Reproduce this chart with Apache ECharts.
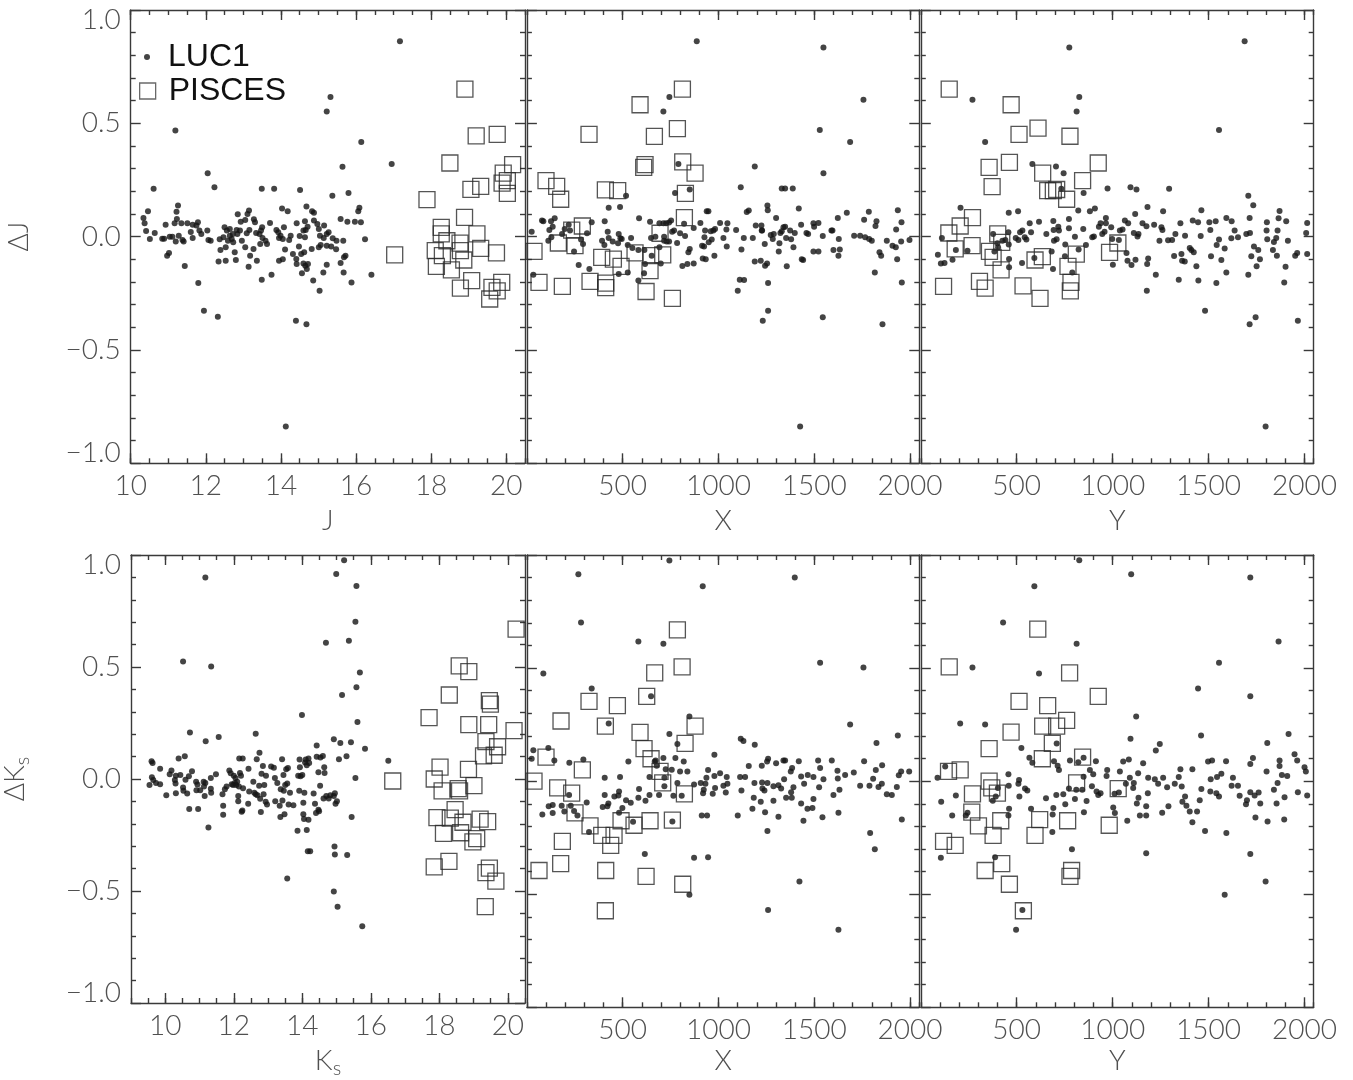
<!DOCTYPE html>
<html><head><meta charset="utf-8">
<script src="https://cdn.jsdelivr.net/npm/echarts@6/dist/echarts.min.js"></script>
<style>html,body{margin:0;padding:0;background:#fff}#c{width:1353px;height:1080px}</style>
</head><body><div id="c"></div>
<script>
// ---------- tick labels ----------
const jMagTicks = [10, 12, 14, 16, 18, 20];
const kMagTicks = [10, 12, 14, 16, 18, 20];
const pixTicks = [500, 1000, 1500, 2000];
const deltaTicks = [-1, -0.5, 0, 0.5, 1];
const legendNames = ['LUC1', 'PISCES'];

// ---------- Delta J panels ----------
const lucJ_mag = [[17.17,0.862],[15.32,0.616],[15.22,0.552],[11.19,0.468],[16.14,0.418],[16.95,0.321],[15.64,0.308],[12.05,0.280],[10.61,0.211],[12.23,0.218],[13.49,0.211],[13.82,0.211],[14.51,0.206],[15.80,0.193],[15.37,0.181],[15.59,0.078],[16.09,0.127],[16.06,0.112],[16.13,0.063],[15.97,0.066],[15.77,0.066],[16.24,-0.012],[16.41,-0.168],[15.88,-0.202],[15.67,-0.158],[15.59,-0.116],[15.68,-0.091],[15.72,-0.084],[15.47,-0.056],[15.48,-0.018],[15.38,-0.007],[15.66,-0.018],[15.22,-0.124],[15.03,-0.239],[15.13,-0.158],[14.86,-0.194],[14.56,-0.162],[14.69,-0.143],[14.65,-0.128],[14.72,-0.121],[14.60,-0.118],[14.42,-0.121],[14.41,-0.099],[14.32,-0.077],[14.54,-0.077],[14.62,-0.069],[14.48,-0.044],[14.82,-0.054],[15.01,-0.047],[15.06,-0.037],[15.22,-0.040],[15.34,-0.044],[15.14,-0.006],[15.22,0.012],[15.27,0.019],[15.04,0.004],[15.15,0.049],[14.97,0.056],[15.01,0.034],[14.88,0.071],[14.83,0.112],[14.88,0.105],[14.68,0.133],[14.64,0.068],[14.71,0.044],[14.66,0.029],[14.60,0.027],[14.50,0.003],[14.64,-0.003],[14.42,0.059],[14.18,0.112],[14.03,0.124],[14.08,0.041],[13.88,0.029],[13.93,0.019],[13.99,0.004],[13.95,-0.006],[14.05,-0.010],[14.22,-0.015],[14.11,-0.057],[14.26,0.004],[13.95,-0.106],[14.05,-0.100],[14.13,-0.838],[14.40,-0.371],[14.68,-0.386],[11.95,-0.327],[12.32,-0.353],[11.80,-0.205],[11.44,-0.130],[13.49,-0.190],[13.75,-0.168],[13.14,-0.133],[13.18,-0.084],[13.36,-0.106],[12.80,-0.103],[12.53,-0.106],[12.34,-0.110],[12.39,-0.059],[12.53,-0.047],[12.77,-0.069],[13.05,-0.047],[13.27,-0.054],[13.45,-0.032],[13.59,-0.018],[13.63,-0.032],[13.51,-0.006],[13.43,0.012],[13.34,0.016],[13.47,0.027],[13.50,0.041],[13.16,0.029],[13.09,0.015],[12.96,-0.018],[12.84,0.012],[12.91,0.027],[12.82,0.029],[12.72,0.012],[12.64,0.004],[12.69,-0.010],[12.73,-0.025],[12.59,-0.018],[12.47,-0.003],[12.37,-0.012],[12.50,0.041],[12.56,0.027],[12.64,0.034],[12.93,0.066],[13.05,0.074],[13.15,0.115],[13.11,0.100],[13.28,0.077],[13.31,0.063],[12.85,0.099],[13.71,0.060],[12.04,0.027],[12.07,-0.015],[12.13,-0.018],[11.79,0.063],[11.75,0.049],[11.88,0.012],[11.83,0.027],[11.65,0.053],[11.60,0.021],[11.65,-0.006],[11.51,0.059],[11.35,0.059],[11.28,0.004],[11.41,-0.021],[11.38,-0.015],[11.23,0.078],[11.26,0.137],[11.22,0.110],[11.17,0.059],[11.20,-0.021],[11.11,0.0],[11.04,0.0],[11.02,-0.072],[10.97,-0.084],[10.93,0.052],[10.89,-0.009],[10.84,-0.009],[10.64,0.016],[10.51,-0.010],[10.41,0.025],[10.46,0.112],[10.37,0.059],[10.34,0.082]];
const pisJ_mag = [[18.90,0.651],[19.20,0.445],[19.76,0.451],[18.50,0.325],[20.17,0.318],[19.92,0.280],[20.03,0.247],[19.89,0.236],[19.32,0.222],[19.06,0.209],[20.03,0.191],[17.89,0.163],[18.89,0.085],[18.27,0.041],[18.27,0.012],[19.22,0.012],[17.03,-0.080],[18.42,-0.018],[18.77,-0.029],[18.11,-0.062],[18.78,-0.062],[18.30,-0.084],[19.32,-0.052],[19.74,-0.072],[18.14,-0.131],[18.54,-0.147],[18.87,-0.103],[19.08,-0.194],[18.78,-0.227],[19.62,-0.224],[19.88,-0.202],[19.76,-0.239],[19.56,-0.275]];
const lucJ_x = [[886.5,0.862],[1547.7,0.835],[1756.5,0.604],[743.7,0.616],[712.3,0.552],[1528.6,0.470],[1687,0.418],[1189.3,0.309],[1547.7,0.280],[790.7,0.321],[849.8,0.208],[773.3,0.193],[517.4,0.181],[486.1,0.131],[426.9,0.127],[1116.1,0.218],[1330,0.212],[1347.6,0.212],[1387.6,0.212],[1255.3,0.137],[1257.1,0.116],[1419,0.124],[1147.4,0.109],[1158,0.115],[1300.6,0.082],[938.6,0.112],[947.3,0.112],[1669.6,0.105],[1784.5,0.110],[1935.9,0.116],[1622.6,0.082],[1760,0.075],[1824.5,0.068],[1955.1,0.063],[1927.2,0.032],[1819.3,0.047],[1589.5,0.027],[1521.6,0.060],[1495.5,0.059],[1499,0.044],[1459,0.016],[1467.8,0.012],[1431.2,0.052],[1398,0.016],[1373.7,0.027],[1338.9,0.041],[1347.6,0.044],[1330.2,0.024],[1323,0.016],[1318,-0.029],[1288.4,0.012],[1272.7,0.007],[1224,0.049],[1227.5,0.027],[1194.5,0.049],[1241.4,-0.032],[1179,-0.006],[1132,-0.006],[1119.7,-0.057],[1092,0.029],[1046.5,0.059],[1041.2,0.031],[1008.2,0.060],[1025.6,-0.006],[1043,-0.043],[982,0.034],[973.3,0.027],[978.6,-0.084],[959.4,0.024],[964.6,-0.013],[949,-0.025],[930,0.027],[926.6,-0.003],[914.4,-0.040],[924.8,-0.044],[905.5,0.060],[917.7,-0.096],[933.3,-0.100],[870.6,-0.118],[870.6,0.038],[849.8,-0.054],[842.8,-0.069],[837.6,-0.121],[811.5,-0.130],[825.5,0.003],[820.4,0.057],[799.5,0.015],[783.9,-0.028],[768.2,0.027],[757.8,0.022],[752.6,0.071],[742.1,0.062],[726.5,0.059],[712.6,0.059],[691.7,0.059],[716.1,0.0],[716.1,-0.018],[730,-0.021],[742.1,-0.021],[691.7,-0.047],[698.7,-0.118],[670.5,0.0],[642.7,0.066],[647.9,-0.006],[651.4,-0.084],[613.2,-0.059],[616.6,-0.121],[611.4,-0.162],[585.4,0.081],[581.9,-0.059],[581.9,-0.194],[550.6,-0.050],[543.7,-0.006],[526.3,-0.037],[526.3,-0.158],[487.9,-0.007],[494.8,-0.010],[479.2,0.012],[475.7,-0.029],[479.2,-0.165],[447.9,-0.021],[427,-0.006],[421.8,0.022],[406.1,0.068],[392.2,-0.018],[404.4,-0.037],[326,-0.143],[338.1,0.063],[313.8,0.015],[292.9,-0.032],[270.3,-0.125],[282.5,-0.013],[246,-0.066],[225.1,0.027],[218.1,0.053],[197.3,0.034],[183.4,0.012],[145.0,0.081],[134.6,0.044],[125.9,0.068],[117.2,0.029],[111.9,-0.018],[127.6,-0.003],[78.8,0.071],[85.8,0.068],[24.9,0.022],[33.6,-0.168],[1133.5,-0.191],[1111,-0.190],[1100.5,-0.239],[1258.8,-0.205],[1258.8,-0.327],[1231,-0.371],[1544.2,-0.356],[1855.8,-0.386],[1426,-0.838],[1815.8,-0.158],[1956.8,-0.202],[1932.5,-0.100],[1925.4,-0.047],[1908,-0.040],[1878.4,-0.018],[1953.3,-0.021],[1996.8,-0.015],[1840.2,-0.069],[1848.9,-0.084],[1800,-0.018],[1786,-0.010],[1739,0.004],[1765.3,-0.003],[1708,0.004],[1594.7,0.027],[1627.9,-0.010],[1633.1,-0.057],[1626,-0.084],[1600,-0.059],[1544.2,0.003],[1495.5,-0.066],[1521.6,-0.066],[1441.6,-0.103],[1434.6,-0.100],[1391.1,-0.047],[1378.9,-0.012],[1356.3,-0.131],[1352.8,-0.006],[1314.5,-0.066],[1283.2,-0.010],[1253.6,-0.118],[1243.1,-0.128],[1220.5,-0.106],[1189.2,-0.110],[1225.6,0.027]];
const pisJ_x = [[811.6,0.651],[590.5,0.582],[324.2,0.451],[665.4,0.442],[785.4,0.477],[616.6,0.318],[609.6,0.306],[813.3,0.330],[877.7,0.280],[99.7,0.247],[155.4,0.222],[176.3,0.165],[409.5,0.206],[473.9,0.203],[827.2,0.191],[822.0,0.084],[289.4,0.047],[234.0,0.029],[694.9,0.015],[164.1,-0.028],[251.1,-0.040],[37.1,-0.065],[390.4,-0.091],[451.3,-0.099],[564.4,-0.072],[646.2,-0.084],[708.9,-0.080],[491.3,-0.131],[642.7,-0.150],[63.2,-0.202],[185.0,-0.219],[329.5,-0.197],[411.3,-0.205],[411.3,-0.225],[621.9,-0.242],[759.3,-0.272]];
const lucJ_y = [[774,0.835],[1688,0.862],[269.3,0.604],[826,0.616],[812.2,0.552],[1554.4,0.470],[335.3,0.418],[581.5,0.321],[704.6,0.309],[744.5,0.280],[732.4,0.211],[973.4,0.212],[1093,0.218],[1124.2,0.208],[1294.3,0.211],[848.6,0.193],[1707.1,0.181],[1733,0.138],[1181.6,0.131],[207,0.127],[458.4,0.105],[507,0.112],[820.8,0.115],[881.4,0.112],[907.5,0.124],[1263,0.112],[1462.5,0.116],[1870,0.113],[964.8,0.082],[1117.4,0.100],[1155.6,0.059],[1714,0.082],[1592.7,0.082],[1904.7,0.068],[1865,0.081],[1804,0.063],[2014,0.060],[2008.7,0.016],[1859.7,0.027],[1802.3,0.027],[1715.8,0.016],[1696.7,0.012],[1653.3,-0.003],[1618.6,-0.007],[1635.9,0.027],[1620.3,0.068],[1554.4,-0.013],[1537,0.068],[1504,0.063],[1509.2,0.029],[1459,0.003],[1445.2,0.063],[1417.5,0.071],[1377.4,0.004],[1353.2,0.059],[1327.1,0.012],[1310,-0.015],[1289,-0.016],[1259.5,0.029],[1254.3,0.041],[1216.2,0.052],[1176.2,0.046],[1129.5,0.001],[1134.7,0.012],[1110.4,0.016],[1081,0.059],[1063.7,0.071],[1037.7,0.027],[1051.6,0.031],[1032.4,-0.015],[997.7,-0.010],[992.5,0.041],[964.8,0.059],[937,0.059],[957.8,0.022],[945.7,0.012],[928.3,0.044],[893.6,-0.003],[902.3,0.001],[860.7,-0.037],[846.8,0.034],[803.4,0.0],[772.2,0.037],[772.2,0.078],[753.1,-0.035],[751.4,-0.087],[716.7,0.044],[720.2,0.027],[708,-0.012],[694.2,-0.018],[682,-0.065],[689,-0.143],[692.5,0.029],[690.8,0.069],[654.4,0.012],[616.2,0.066],[591.9,-0.094],[574.6,0.019],[567.7,0.059],[550.3,-0.013],[541.7,-0.003],[529.5,0.027],[517.4,0.019],[508.7,-0.015],[494.8,-0.006],[527.8,-0.116],[458.4,-0.035],[460.1,-0.099],[460.1,-0.135],[456.6,0.019],[440.9,-0.015],[425.4,-0.018],[402.8,-0.047],[383.7,-0.065],[376.9,0.012],[399.3,-0.029],[243.3,-0.062],[182.7,-0.059],[165.3,-0.102],[123.6,-0.116],[104.7,-0.118],[89.1,-0.080],[109.9,-0.006],[789.6,-0.158],[822.6,-0.057],[1001.2,-0.124],[1077.4,-0.106],[1072.2,-0.072],[1098.2,-0.125],[1119,-0.102],[1179.9,-0.121],[1185.1,-0.096],[1178.1,-0.239],[1225,-0.168],[1244,-0.018],[1320.3,-0.085],[1358.5,-0.077],[1362,-0.106],[1375.9,-0.110],[1344.6,-0.190],[1401.8,-0.050],[1410.5,-0.059],[1422.6,-0.069],[1436.5,-0.131],[1446.9,-0.194],[1481.6,-0.327],[1512.8,-0.087],[1542.3,-0.037],[1540.6,-0.205],[1566.6,-0.103],[1583.9,-0.052],[1592.6,-0.158],[1707.1,-0.168],[1722.7,-0.087],[1736.6,-0.044],[1750.4,-0.131],[1759.1,-0.059],[1767.8,-0.100],[1714,-0.386],[1745.2,-0.356],[1797.3,-0.838],[1805.9,-0.012],[1835.4,-0.059],[1840.6,-0.024],[1852.7,-0.006],[1856.2,-0.084],[1901.3,-0.133],[1894.4,-0.202],[1913.5,-0.018],[1951.5,-0.084],[1961.9,-0.072],[2014,-0.077],[1965.4,-0.371]];
const pisJ_y = [[148.1,0.651],[470.8,0.582],[611,0.479],[512,0.451],[777.5,0.443],[461.9,0.328],[356.1,0.306],[924.9,0.325],[635.3,0.280],[371.7,0.221],[843.4,0.247],[661.3,0.203],[690.8,0.203],[708.2,0.208],[760.2,0.165],[269.3,0.084],[205.2,0.047],[146.2,0.016],[401.1,0.012],[421.9,-0.025],[179.2,-0.054],[267.4,-0.040],[357.8,-0.065],[376.9,-0.091],[418.5,-0.147],[595.4,-0.103],[633.5,-0.088],[810.5,-0.077],[767.2,-0.131],[983.9,-0.069],[1027.3,-0.028],[782.8,-0.202],[779.4,-0.239],[118.6,-0.219],[305.8,-0.197],[335.3,-0.227],[532.9,-0.217],[621.4,-0.272]];

// ---------- Delta Ks panels ----------
const lucK_mag = [[15.22,0.977],[14.99,0.915],[11.17,0.900],[15.58,0.862],[15.55,0.702],[14.69,0.608],[15.36,0.617],[10.52,0.524],[11.34,0.502],[15.68,0.476],[15.58,0.410],[15.16,0.375],[13.99,0.286],[15.61,0.254],[10.72,0.208],[12.64,0.202],[11.56,0.188],[11.18,0.169],[14.92,0.178],[15.11,0.161],[15.42,0.164],[15.83,0.135],[14.42,0.149],[16.51,0.081],[15.29,0.102],[15.07,0.088],[12.75,0.117],[10.57,0.102],[10.39,0.091],[9.60,0.079],[9.63,0.071],[9.85,0.046],[10.78,0.035],[11.48,0.021],[10.18,0.038],[10.13,0.021],[10.31,0.015],[10.44,0.018],[10.69,0.012],[9.61,0.008],[9.65,-0.005],[9.73,-0.018],[9.85,-0.023],[9.54,-0.027],[10.28,-0.005],[10.30,-0.020],[10.03,-0.073],[10.31,-0.064],[10.52,-0.038],[10.53,-0.053],[10.64,-0.065],[10.59,-0.003],[10.70,-0.134],[10.96,-0.134],[10.90,-0.012],[10.94,-0.024],[11.02,-0.050],[10.91,-0.050],[11.12,-0.012],[11.13,-0.033],[11.15,-0.076],[11.17,-0.018],[11.26,-0.217],[11.33,0.005],[11.33,-0.043],[11.34,-0.061],[11.67,-0.068],[11.69,-0.119],[11.69,-0.160],[11.74,-0.046],[11.79,-0.033],[11.87,0.038],[11.91,0.026],[11.94,-0.023],[11.98,-0.027],[12.00,0.015],[12.03,-0.018],[12.05,0.005],[12.07,-0.027],[12.10,-0.012],[12.13,-0.076],[12.13,-0.099],[12.15,-0.033],[12.16,0.091],[12.18,0.027],[12.21,0.015],[12.23,-0.146],[12.26,0.091],[12.25,-0.141],[12.27,-0.041],[12.43,0.046],[12.42,-0.111],[12.45,-0.056],[12.57,-0.012],[12.67,0.088],[12.60,-0.061],[12.64,-0.068],[12.69,-0.073],[12.74,-0.030],[12.77,-0.088],[12.79,-0.147],[12.81,0.023],[12.85,0.058],[12.87,-0.068],[12.89,-0.027],[12.93,-0.102],[12.97,-0.114],[12.94,0.015],[13.09,0.056],[13.17,0.050],[13.20,0.005],[13.21,-0.099],[13.27,-0.018],[13.34,-0.119],[13.36,-0.170],[13.37,-0.046],[13.41,0.088],[13.42,-0.096],[13.45,0.018],[13.46,-0.053],[13.48,-0.157],[13.50,-0.027],[13.53,0.043],[13.56,-0.020],[13.58,0.049],[13.60,-0.114],[13.64,-0.061],[13.74,-0.117],[13.56,-0.444],[13.86,-0.231],[13.91,-0.053],[13.88,0.015],[13.92,0.087],[13.93,0.053],[13.95,0.012],[14.00,0.018],[14.03,-0.106],[14.03,-0.157],[14.05,-0.179],[14.06,-0.061],[14.08,0.074],[14.10,0.087],[14.13,0.061],[14.13,-0.228],[14.16,-0.322],[14.23,-0.322],[14.18,-0.182],[14.18,0.091],[14.20,0.071],[14.33,-0.065],[14.37,-0.111],[14.40,-0.152],[14.42,0.099],[14.47,0.030],[14.47,-0.137],[14.49,-0.144],[14.52,-0.030],[14.53,0.096],[14.60,0.103],[14.62,-0.087],[14.64,0.053],[14.65,0.027],[14.70,-0.076],[14.77,-0.087],[14.82,-0.073],[14.92,-0.076],[14.95,-0.064],[14.97,-0.111],[15.01,-0.099],[14.94,-0.301],[14.95,-0.337],[15.31,-0.339],[14.92,-0.502],[15.03,-0.570],[15.44,-0.170],[15.55,0.005],[15.75,-0.657]];
const pisK_mag = [[20.24,0.669],[18.58,0.505],[18.86,0.479],[18.29,0.375],[19.46,0.350],[19.49,0.334],[17.70,0.274],[18.86,0.243],[19.44,0.243],[20.18,0.216],[19.36,0.167],[19.70,0.144],[19.60,0.106],[19.29,0.103],[18.02,0.053],[18.85,0.043],[16.64,-0.009],[17.85,0.0],[18.08,-0.053],[18.55,-0.043],[18.59,-0.053],[19.01,-0.030],[18.46,-0.137],[17.93,-0.172],[18.32,-0.175],[18.69,-0.193],[19.19,-0.179],[19.41,-0.190],[18.12,-0.243],[18.62,-0.240],[19.09,-0.266],[18.98,-0.281],[18.28,-0.368],[17.85,-0.392],[19.46,-0.398],[19.36,-0.418],[19.65,-0.456],[19.34,-0.570]];
const lucK_x = [[743.7,0.976],[268.6,0.915],[917.7,0.862],[1398.1,0.900],[282.5,0.702],[581.8,0.617],[712.3,0.608],[1530.3,0.524],[1756.5,0.502],[85.8,0.476],[338.1,0.410],[648,0.375],[426.9,0.255],[1687,0.251],[848.1,0.286],[743.7,0.208],[1935.9,0.202],[1116.1,0.187],[1130,0.178],[1189.2,0.161],[785.4,0.164],[1824.5,0.169],[978.6,0.117],[33.6,0.137],[111.9,0.147],[24.9,0.099],[143.2,0.091],[294.6,0.096],[221.5,0.081],[529.6,0.087],[712.3,0.102],[667.1,0.087],[775,0.102],[818.5,0.087],[677.5,0.068],[724.5,0.053],[755.9,0.050],[799.4,0.043],[837.6,0.043],[1158,0.067],[1225.9,0.068],[1258.9,0.099],[1253.6,0.087],[1300.6,0.079],[1338.9,0.091],[1347.6,0.091],[1419,0.088],[1520,0.091],[1591.3,0.091],[1760,0.088],[1854,0.070],[1820.9,0.049],[1941,0.026],[1953.3,0.043],[1995.1,0.043],[1706.1,0.038],[1660.9,0.027],[1620.8,0.046],[1622.6,0.012],[1547.7,0.008],[1530.3,0.058],[1495.5,0.018],[1465.9,0.027],[1431.2,0.021],[1384.2,0.058],[1377.2,0.043],[1342.4,0.008],[1312.8,-0.018],[1326.8,-0.033],[1286.7,-0.023],[1255.3,-0.008],[1227.5,-0.006],[1229.3,-0.033],[1239.7,-0.041],[1187.5,-0.008],[1184,-0.073],[1177,-0.122],[1138.8,0.018],[1112.7,0.018],[1119.7,-0.041],[1100.5,-0.152],[1046.5,-0.011],[1043,0.018],[1008.2,0.035],[1025.6,-0.020],[1038,-0.050],[982.2,-0.030],[978.6,0.023],[969.9,-0.056],[945.6,0.049],[936.9,0.015],[931.7,-0.011],[923,-0.038],[919.5,-0.053],[912.6,-0.152],[940.4,-0.152],[907.3,-0.008],[872.5,-0.015],[945.6,-0.337],[872.5,-0.339],[848.1,-0.502],[759.3,-0.178],[764.5,-0.065],[808,-0.065],[785.4,-0.008],[717.6,-0.023],[717.6,0.015],[689.7,-0.061],[671.7,0.091],[639.8,0.018],[639.8,-0.061],[618.9,-0.087],[615.4,-0.322],[585.3,-0.035],[581.9,-0.073],[554,-0.179],[542,-0.096],[517.4,-0.084],[498.3,-0.119],[486.1,0.018],[480.9,-0.046],[477.4,-0.064],[480.9,-0.140],[456.6,-0.068],[425.2,-0.099],[420,-0.111],[406.1,-0.061],[395.6,-0.114],[406.1,0.015],[324.2,-0.225],[312,-0.094],[263.7,-0.152],[246.3,-0.132],[228.9,-0.109],[220.2,-0.061],[195.4,-0.134],[181.5,-0.109],[134.6,-0.106],[134.6,-0.141],[113.7,-0.111],[80.6,-0.147],[1422.4,-0.444],[1258.8,-0.570],[1626,-0.657],[1791.4,-0.229],[1815.8,-0.301],[1956.8,-0.170],[1930.7,-0.026],[1904.6,-0.061],[1878.5,-0.058],[1852.4,-0.012],[1834.9,-0.026],[1807,0.011],[1787.9,-0.020],[1739.2,-0.020],[1600,-0.061],[1631.3,-0.038],[1626.1,-0.140],[1542.5,-0.160],[1525.1,-0.027],[1495.5,-0.079],[1490.3,-0.119],[1464.2,-0.122],[1443.3,-0.175],[1431.2,-0.099],[1446.8,-0.012],[1391.1,-0.027],[1379,-0.049],[1382.4,-0.073],[1352.8,-0.073],[1312.8,-0.157],[1286.7,-0.087],[1255.3,-0.220],[1243.1,-0.137],[1220.5,-0.091]];
const pisK_x = [[785.4,0.669],[810,0.505],[667.1,0.479],[625.3,0.375],[324.2,0.353],[472.2,0.334],[178.1,0.266],[409.5,0.243],[877.7,0.243],[590.5,0.216],[611.4,0.144],[825.5,0.167],[647.9,0.099],[99.7,0.106],[289.4,0.050],[694.9,0.043],[708.8,-0.008],[37.1,0.0],[160.6,-0.030],[233.7,-0.053],[822,-0.056],[251.1,-0.140],[329.5,-0.198],[390.4,-0.240],[454.8,-0.240],[437.4,-0.284],[491.3,-0.175],[559.2,-0.195],[642.7,-0.175],[759.3,-0.172],[185,-0.266],[176.3,-0.365],[63.2,-0.395],[411.3,-0.395],[621.9,-0.421],[813.3,-0.456],[409.5,-0.573]];
const lucK_y = [[826,0.977],[1096.6,0.915],[591.9,0.862],[1717.5,0.900],[428.9,0.702],[812.2,0.608],[1864.9,0.617],[269.3,0.502],[1554.4,0.524],[616.2,0.476],[1445.2,0.410],[1717.5,0.375],[1122.6,0.286],[205.2,0.255],[335.3,0.251],[1460.8,0.202],[1917,0.208],[1093.1,0.188],[1245.7,0.164],[1225,0.135],[1806,0.169],[1948.1,0.119],[708.2,0.167],[524.3,0.147],[566,0.103],[581.5,0.081],[456.7,0.030],[87.2,0.015],[127.2,0.065],[1962,0.091],[1870,0.091],[1731.3,0.102],[1591.1,0.088],[1518.2,0.091],[1497.4,0.087],[1415.6,0.053],[1353.2,0.053],[1344.6,0.018],[1323.8,-0.012],[1284,-0.027],[1263.2,0.015],[1237.1,-0.012],[1219.8,0.008],[1185.1,0.015],[1159,0.079],[1132.9,0.035],[1110.4,-0.008],[1089.6,0.015],[1084.4,0.096],[1068.9,-0.012],[1055,0.087],[1037.7,0.043],[1032.4,-0.050],[1009.9,-0.056],[1003,-0.117],[1011.6,-0.141],[971.7,0.049],[968.3,0.023],[937,-0.053],[924.9,-0.061],[916.2,-0.046],[912.7,0.088],[898.8,0.030],[891.9,-0.023],[881.4,0.049],[864.1,-0.088],[850.2,-0.137],[848.5,0.103],[848.5,0.020],[841.6,-0.038],[820.8,0.084],[810.4,-0.038],[803.4,-0.079],[787.8,-0.301],[777.4,0.091],[772.2,-0.033],[753.1,-0.102],[742.7,-0.058],[720.2,0.049],[713.3,0.068],[706.4,-0.061],[694.2,0.088],[690.8,-0.119],[687.3,-0.147],[685.6,-0.225],[652.6,-0.076],[574.6,-0.122],[555.2,-0.041],[543.1,-0.033],[512.1,0.005],[508.7,-0.012],[513.8,-0.068],[458.4,-0.020],[460.1,-0.122],[456.7,-0.152],[390.8,-0.068],[401.8,-0.030],[375.1,-0.087],[387.2,-0.337],[234.7,-0.152],[243.4,-0.140],[182.7,-0.064],[163.6,-0.152],[106.3,-0.091],[104.6,-0.339],[496.6,-0.657],[529.6,-0.570],[1584,-0.502],[1797.3,-0.444],[1717.5,-0.322],[1592.7,-0.229],[1481.6,-0.220],[1174.9,-0.319],[1717.5,0.076],[1717.5,-0.049],[1740,-0.064],[1761,-0.050],[1744.3,-0.161],[1695,-0.102],[1700.1,-0.084],[1662,-0.065],[1653.2,-0.020],[1627,0.015],[1620.3,-0.020],[1566.6,0.033],[1554.4,-0.068],[1540.6,-0.053],[1544.1,0.018],[1511.1,0.008],[1509.2,-0.046],[1462.5,-0.035],[1453.9,-0.084],[1440,-0.134],[1415.6,-0.182],[1401.8,-0.134],[1384.5,-0.109],[1377.4,-0.068],[1363.6,-0.091],[1360.1,-0.024],[1290.8,-0.111],[1258.1,-0.140],[1183.4,-0.053],[1174.9,-0.111],[1174.9,-0.152],[1141.9,-0.152],[1134.7,-0.073],[1126.1,-0.099],[1107,-0.030],[1076.2,-0.175],[1802.3,0.043],[1840.6,-0.038],[1859.7,-0.008],[1854.5,-0.099],[1870,0.067],[1882.1,0.027],[1896,-0.071],[1894.3,-0.170],[1910,0.023],[1807.5,-0.178],[2000.2,0.061],[2007.1,0.043],[2014,-0.064],[1965.4,-0.049],[1769.4,-0.099]];
const pisK_y = [[609.8,0.672],[148.1,0.505],[775.7,0.479],[924.9,0.375],[512.1,0.353],[661.3,0.334],[760.2,0.269],[635.3,0.243],[708.2,0.243],[470.5,0.217],[685.6,0.167],[356.1,0.144],[843.4,0.106],[633.5,0.099],[144.5,0.043],[205.2,0.050],[356.1,0.0],[369.9,-0.030],[399.3,-0.053],[812.2,-0.008],[1029,-0.033],[269.3,-0.056],[265.9,-0.137],[300.5,-0.198],[416.7,-0.175],[619.6,-0.170],[765.4,-0.175],[982.1,-0.195],[376.9,-0.240],[595.4,-0.240],[118.6,-0.266],[179.2,-0.284],[421.9,-0.365],[335.3,-0.395],[786.1,-0.395],[777.5,-0.421],[461.8,-0.456],[534.7,-0.573]];

// ---------- layout ----------
const cols = [{left:130.7,width:394.3},{left:526.9,width:392.4},{left:920.8,width:392.9}];
const rows = [{top:10,height:453.3},{top:555,height:452.3}];
const panels = [
  {r:0,c:0,min:10,max:20.5,major:jMagTicks,step:0.5,xname:'J',luc:lucJ_mag,pis:pisJ_mag,yname:'\u0394J'},
  {r:0,c:1,min:0,max:2048,major:pixTicks,step:100,xname:'X',luc:lucJ_x,pis:pisJ_x},
  {r:0,c:2,min:0,max:2048,major:pixTicks,step:100,xname:'Y',luc:lucJ_y,pis:pisJ_y},
  {r:1,c:0,min:9,max:20.5,major:kMagTicks,step:0.5,xname:'{a|K}{s|s}',luc:lucK_mag,pis:pisK_mag,yname:'{a|\u0394K}{s|s}'},
  {r:1,c:1,min:0,max:2048,major:pixTicks,step:100,xname:'X',luc:lucK_x,pis:pisK_x},
  {r:1,c:2,min:0,max:2048,major:pixTicks,step:100,xname:'Y',luc:lucK_y,pis:pisK_y}
];

const LINE = '#3a3a3a';
const TXT = '#505050';
const FONT = 'Lato, "Liberation Sans", sans-serif';
const FS = 28;
const lineStyle = {color: LINE, width: 1.4};
const nameRich = {
  a: {fontSize: FS, fontFamily: FONT, fontWeight: 300, color: TXT},
  s: {fontSize: 20, fontFamily: FONT, fontWeight: 300, color: TXT, padding: [16,0,0,0]}
};
const fmtDelta = v => {
  const s = (v < 0 ? '\u2212' : '') + Math.abs(v).toFixed(1);
  if (v === 1) return '{t|' + s + '}';
  if (v === -1) return '{b|' + s + '}';
  return s;
};

const grid = [], xAxis = [], yAxis = [], series = [];
panels.forEach((p, i) => {
  grid.push({left: cols[p.c].left, top: rows[p.r].top, width: cols[p.c].width, height: rows[p.r].height, containLabel: false});
  const base = {gridIndex: i, type: 'value', min: p.min, max: p.max, splitLine: {show: false}};
  xAxis.push(Object.assign({}, base, {
    position: 'bottom',
    axisLine: {show: true, onZero: false, lineStyle},
    axisTick: {show: true, inside: true, length: 10, customValues: p.major, lineStyle},
    axisLabel: {show: true, customValues: p.major, margin: 9, fontSize: FS, fontFamily: FONT, fontWeight: 300, color: TXT, formatter: v => String(v)},
    name: p.xname, nameLocation: 'middle', nameGap: p.r === 0 ? 44 : 40,
    nameTextStyle: {fontSize: FS, fontFamily: FONT, fontWeight: 300, color: TXT, rich: nameRich}
  }));
  xAxis.push(Object.assign({}, base, {
    position: 'bottom', interval: p.step,
    axisLine: {show: false, onZero: false},
    axisTick: {show: true, inside: true, length: 5, lineStyle},
    axisLabel: {show: false}
  }));
  xAxis.push(Object.assign({}, base, {
    position: 'top',
    axisLine: {show: true, onZero: false, lineStyle},
    axisTick: {show: true, inside: true, length: 10, customValues: p.major, lineStyle},
    axisLabel: {show: false}
  }));
  xAxis.push(Object.assign({}, base, {
    position: 'top', interval: p.step,
    axisLine: {show: false, onZero: false},
    axisTick: {show: true, inside: true, length: 5, lineStyle},
    axisLabel: {show: false}
  }));
  const ybase = {gridIndex: i, type: 'value', min: -1, max: 1, interval: 0.5,
    splitLine: {show: false}, minorSplitLine: {show: false},
    axisLine: {show: true, onZero: false, lineStyle},
    axisTick: {show: true, inside: true, length: 10, lineStyle},
    minorTick: {show: true, splitNumber: 5, length: 5, lineStyle}};
  yAxis.push(Object.assign({}, ybase, {
    position: 'left',
    axisLabel: {show: p.c === 0, margin: 10, fontSize: FS, fontFamily: FONT, fontWeight: 300, color: TXT, formatter: fmtDelta,
      rich: {t: {fontSize: FS, fontFamily: FONT, fontWeight: 300, color: TXT, padding: [20,0,0,0]},
             b: {fontSize: FS, fontFamily: FONT, fontWeight: 300, color: TXT, padding: [0,0,20,0]}}},
    name: p.c === 0 ? p.yname : '', nameLocation: 'middle', nameRotate: 90, nameGap: 98,
    nameTextStyle: {fontSize: FS, fontFamily: FONT, fontWeight: 300, color: TXT, rich: nameRich}
  }));
  yAxis.push(Object.assign({}, ybase, {position: 'right', axisLabel: {show: false}}));
  series.push({
    name: legendNames[0], type: 'scatter', xAxisIndex: i * 4, yAxisIndex: i * 2,
    data: p.luc, symbol: 'circle', symbolSize: 6,
    itemStyle: {color: '#151515'}, silent: true, z: 3
  });
  series.push({
    name: legendNames[1], type: 'scatter', xAxisIndex: i * 4, yAxisIndex: i * 2,
    data: p.pis, symbol: 'rect', symbolSize: 16,
    itemStyle: {color: 'rgba(0,0,0,0)', borderColor: '#2a2a2a', borderWidth: 1.3}, silent: true, z: 4
  });
});

const legendFont = '"Liberation Sans", Arial, sans-serif';
const option = {
  backgroundColor: '#fff',
  animation: false,
  grid, xAxis, yAxis, series,
  legend: [
    {data: [{name: legendNames[0], icon: 'circle'}], left: 144, top: 41, itemWidth: 6, itemHeight: 6,
     selectedMode: false, padding: 0,
     textStyle: {fontSize: 32, fontFamily: legendFont, color: '#111', padding: [0,0,0,13]}},
    {data: [{name: legendNames[1], icon: 'rect'}], left: 139, top: 75, itemWidth: 16, itemHeight: 16,
     selectedMode: false, padding: 0,
     textStyle: {fontSize: 32, fontFamily: legendFont, color: '#111', padding: [0,0,0,8]},
     itemStyle: {color: 'rgba(0,0,0,0)', borderColor: '#444', borderWidth: 1.3}}
  ]
};
const chart = echarts.init(document.getElementById('c'), null, {renderer: 'canvas'});
chart.setOption(option);
</script>
</body></html>
